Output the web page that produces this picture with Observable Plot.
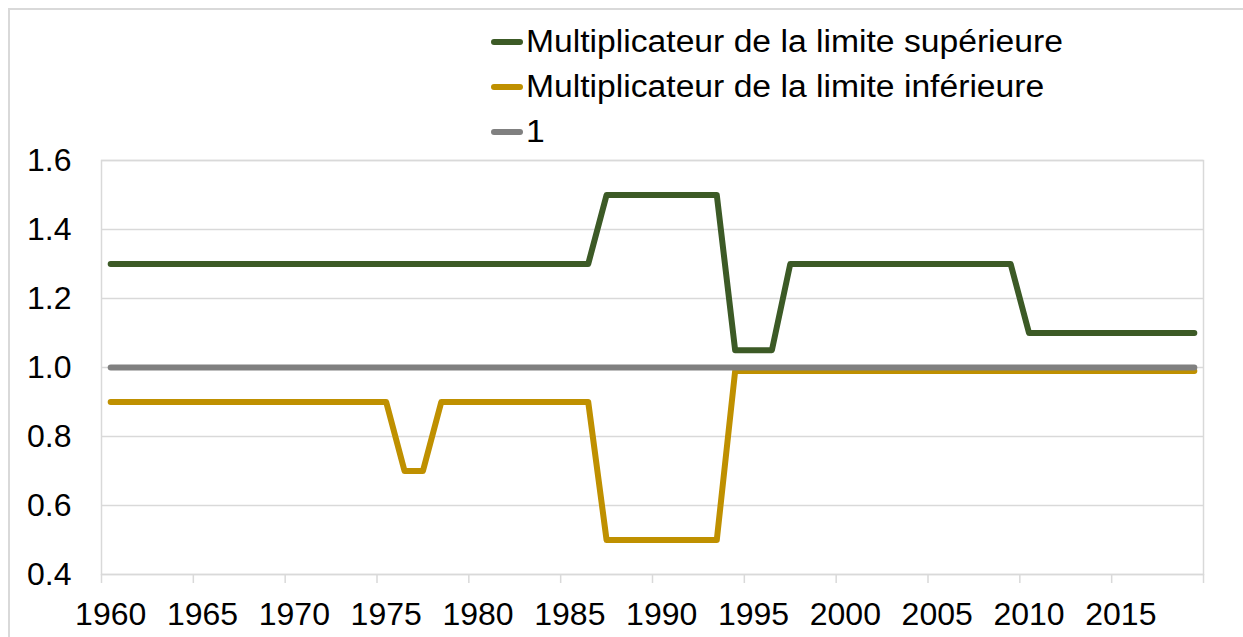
<!DOCTYPE html>
<html>
<head>
<meta charset="utf-8">
<script src="https://cdn.jsdelivr.net/npm/d3@7"></script>
<script src="https://cdn.jsdelivr.net/npm/@observablehq/plot@0.6"></script>
<style>
  html, body { margin: 0; padding: 0; background: #fff; overflow: hidden; }
  #wrap { position: relative; width: 1243px; height: 637px; font-family: "Liberation Sans", Arial, sans-serif; }
  #border { position: absolute; left: 8px; top: 8px; width: 1300px; height: 700px; border: 2px solid #d9d9d9; box-sizing: border-box; }
  #legend { position: absolute; left: 491px; top: 19px; }
  .row { display: flex; align-items: center; height: 45px; }
  .sw { width: 32px; height: 6px; border-radius: 3px; margin-right: 3px; }
  .lbl { font-size: 30.8px; line-height: 45px; color: #000; display: inline-block; transform: scaleX(1.093); transform-origin: left center; white-space: nowrap; }
  #chart { position: absolute; left: 0; top: 140px; }
  #chart svg { overflow: visible; }
</style>
</head>
<body>
<div id="wrap">
  <div id="border"></div>
  <div id="legend"></div>
  <div id="chart"></div>
</div>
<script>
const years = [1960,1961,1962,1963,1964,1965,1966,1967,1968,1969,
               1970,1971,1972,1973,1974,1975,1976,1977,1978,1979,
               1980,1981,1982,1983,1984,1985,1986,1987,1988,1989,
               1990,1991,1992,1993,1994,1995,1996,1997,1998,1999,
               2000,2001,2002,2003,2004,2005,2006,2007,2008,2009,
               2010,2011,2012,2013,2014,2015,2016,2017,2018,2019];
const upper = [1.3,1.3,1.3,1.3,1.3,1.3,1.3,1.3,1.3,1.3,
               1.3,1.3,1.3,1.3,1.3,1.3,1.3,1.3,1.3,1.3,
               1.3,1.3,1.3,1.3,1.3,1.3,1.3,1.5,1.5,1.5,
               1.5,1.5,1.5,1.5,1.05,1.05,1.05,1.3,1.3,1.3,
               1.3,1.3,1.3,1.3,1.3,1.3,1.3,1.3,1.3,1.3,
               1.1,1.1,1.1,1.1,1.1,1.1,1.1,1.1,1.1,1.1];
const lower = [0.9,0.9,0.9,0.9,0.9,0.9,0.9,0.9,0.9,0.9,
               0.9,0.9,0.9,0.9,0.9,0.9,0.7,0.7,0.9,0.9,
               0.9,0.9,0.9,0.9,0.9,0.9,0.9,0.5,0.5,0.5,
               0.5,0.5,0.5,0.5,0.99,0.99,0.99,0.99,0.99,0.99,
               0.99,0.99,0.99,0.99,0.99,0.99,0.99,0.99,0.99,0.99,
               0.99,0.99,0.99,0.99,0.99,0.99,0.99,0.99,0.99,0.99];
const one   = [1,1,1,1,1,1,1,1,1,1,
               1,1,1,1,1,1,1,1,1,1,
               1,1,1,1,1,1,1,1,1,1,
               1,1,1,1,1,1,1,1,1,1,
               1,1,1,1,1,1,1,1,1,1,
               1,1,1,1,1,1,1,1,1,1];
const seriesNames = ["Multiplicateur de la limite supérieure", "Multiplicateur de la limite inférieure", "1"];
const seriesColors = ["#3c5a26", "#bf9000", "#808080"];
const xTickLabels = [1960,1965,1970,1975,1980,1985,1990,1995,2000,2005,2010,2015];
const xTickMarks = [1959.5,1964.5,1969.5,1974.5,1979.5,1984.5,1989.5,1994.5,1999.5,2004.5,2009.5,2014.5,2019.5];
const yTicks = [0.4,0.6,0.8,1.0,1.2,1.4,1.6];

const seriesValues = [upper, lower, one];
const tables = seriesValues.map(vals => years.map((yr, i) => ({year: yr, value: vals[i]})));

// Legend
const legend = document.getElementById("legend");
seriesNames.forEach((name, i) => {
  const row = document.createElement("div");
  row.className = "row";
  const sw = document.createElement("span");
  sw.className = "sw";
  sw.style.background = seriesColors[i];
  const lbl = document.createElement("span");
  lbl.className = "lbl";
  lbl.textContent = name;
  row.appendChild(sw);
  row.appendChild(lbl);
  legend.appendChild(row);
});

const gridColor = "#d9d9d9";
const plot = Plot.plot({
  width: 1243,
  height: 497,
  marginTop: 20,
  marginBottom: 63,
  marginLeft: 101,
  marginRight: 40,
  style: {fontFamily: "'Liberation Sans', Arial, sans-serif", fontSize: "32px", color: "#000", background: "transparent"},
  x: {type: "linear", domain: [1959.5, 2019.5], label: null},
  y: {domain: [0.4, 1.6], label: null},
  marks: [
    Plot.gridY(yTicks, {stroke: gridColor, strokeOpacity: 1, strokeWidth: 1.5}),
    Plot.frame({stroke: gridColor, strokeWidth: 1.5}),
    Plot.axisX(xTickMarks, {tickSize: 9, stroke: gridColor, strokeOpacity: 1, strokeWidth: 1.5, tickFormat: () => "", label: null}),
    Plot.axisX(xTickLabels, {tickSize: 0, tickPadding: 28, tickFormat: d => String(d), fontSize: 32, fill: "#000", label: null}),
    Plot.axisY(yTicks, {tickSize: 0, tickPadding: 30, tickFormat: d => d.toFixed(1), fontSize: 32, fill: "#000", label: null}),
    ...tables.map((t, i) => Plot.line(t, {
      x: "year", y: "value",
      stroke: seriesColors[i], strokeWidth: 6,
      strokeLinecap: "round", strokeLinejoin: "round"
    }))
  ]
});
document.getElementById("chart").appendChild(plot);
</script>
</body>
</html>
